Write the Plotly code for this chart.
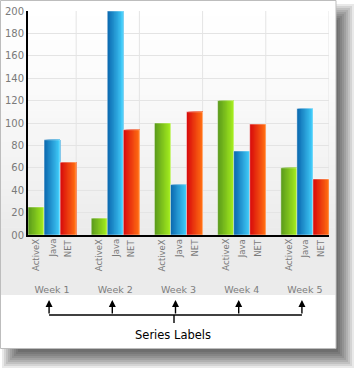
import plotly.graph_objects as go

# ---------------- data ----------------
weeks = ["Week 1", "Week 2", "Week 3", "Week 4", "Week 5"]
series_names = ["ActiveX", "Java", "NET"]
activex = [25, 15, 100, 120, 60]
java = [85, 200, 45, 75, 113]
net = [65, 94, 110, 99, 50]
y_tick_vals = [0, 20, 40, 60, 80, 100, 120, 140, 160, 180, 200]
y_tick_text = ["00", "20", "40", "60", "80", "100", "120", "140", "160", "180", "200"]
note_text = "Series Labels"

# ---------------- geometry / style ----------------
W, H = 357, 370
L, R, T, B = 28, 28, 11, 135
PW, PH = W - L - R, H - T - B
BOTTOM = T + PH


def pxx(x):
    return (x - L) / PW


def pxy(y):
    return (BOTTOM - y) / PH


GW = 0.762          # group width in category units
BW = GW / 3         # bar width
N = 12              # gradient stripes per bar

colors = [((0x5c, 0x9c, 0x1c), (0xa2, 0xea, 0x1e)),
          ((0x0c, 0x6a, 0xb0), (0x40, 0xca, 0xf8)),
          ((0xd8, 0x0c, 0x0c), (0xff, 0x6c, 0x12))]
FONT = "DejaVu Sans"
GRAY = "#7a7a7a"


def mix(c0, c1, t):
    return "rgb(%d,%d,%d)" % tuple(round(a + (b - a) * t) for a, b in zip(c0, c1))


fig = go.Figure()
for s, vals in enumerate([activex, java, net]):
    c0, c1 = colors[s]
    base = -GW / 2 + s * BW
    for k in range(N):
        fig.add_trace(go.Bar(
            x=weeks, y=vals, width=BW * (1 - k / N), offset=base + k * BW / N,
            marker=dict(color=mix(c0, c1, k / (N - 1)), line=dict(width=0)),
            name=series_names[s], showlegend=False, hoverinfo="skip"))
    fig.add_trace(go.Bar(
        x=weeks, y=vals, width=BW, offset=base,
        marker=dict(color="rgba(0,0,0,0)", line=dict(color="rgba(255,255,255,0.45)", width=1)),
        name=series_names[s], showlegend=False,
        hovertemplate=series_names[s] + " %{x}: %{y}<extra></extra>"))

shapes = []
# drop shadow
sx0, sy0, sx1, sy1 = 10, 12, 346, 360
for e in range(-8, 9, 2):
    shapes.append(dict(type="rect", xref="paper", yref="paper", layer="below",
                       x0=pxx(sx0 - e), x1=pxx(sx1 + e), y0=pxy(sy1 + e), y1=pxy(sy0 - e),
                       fillcolor="rgba(0,0,0,0.085)", line=dict(width=0)))
# frame fill
shapes.append(dict(type="rect", xref="paper", yref="paper", layer="below",
                   x0=pxx(0), x1=pxx(336), y0=pxy(348), y1=pxy(0),
                   fillcolor="white", line=dict(width=0)))
# background gradient
NS = 30
top, bot = 1, BOTTOM
for i in range(NS):
    ya = top + (bot - top) * i / NS
    yb = top + (bot - top) * (i + 1) / NS + 0.6
    t = ((i + 0.5) / NS) ** 1.4
    g = round(255 + (235 - 255) * t)
    shapes.append(dict(type="rect", xref="paper", yref="paper", layer="below",
                       x0=pxx(1), x1=pxx(335.5), y0=pxy(yb), y1=pxy(ya),
                       fillcolor="rgb(%d,%d,%d)" % (g, g, g), line=dict(width=0)))
# label band
shapes.append(dict(type="rect", xref="paper", yref="paper", layer="below",
                   x0=pxx(1), x1=pxx(335.5), y0=pxy(295), y1=pxy(BOTTOM),
                   fillcolor="#ebebeb", line=dict(width=0)))
# frame border
shapes.append(dict(type="rect", xref="paper", yref="paper", layer="below",
                   x0=pxx(0.5), x1=pxx(336), y0=pxy(348.5), y1=pxy(0.5),
                   fillcolor="rgba(0,0,0,0)", line=dict(color="#bdbdbd", width=1)))
# vertical grid lines at group edges
for i in range(len(weeks)):
    shapes.append(dict(type="line", xref="x", yref="paper", layer="below",
                       x0=i + GW / 2, x1=i + GW / 2, y0=0, y1=1,
                       line=dict(color="#e4e4e4", width=1)))
# connector lines for the callout
shift = -3 / (PW / (len(weeks) - 1 + GW))
shapes.append(dict(type="line", xref="x", yref="paper",
                   x0=0 + shift, x1=len(weeks) - 1 + shift, y0=pxy(315), y1=pxy(315),
                   line=dict(color="black", width=1.4)))
shapes.append(dict(type="line", xref="paper", yref="paper",
                   x0=pxx(174), x1=pxx(174), y0=pxy(315), y1=pxy(323),
                   line=dict(color="black", width=1.4)))

annotations = []
for w in weeks:
    for s, name in enumerate(series_names):
        annotations.append(dict(xref="x", yref="y", x=w, y=0, text=name, showarrow=False,
                                textangle=-90, xanchor="center", yanchor="top",
                                xshift=(s - 1) * BW * PW / (len(weeks) - 1 + GW), yshift=-2,
                                font=dict(family=FONT, size=8.5, color=GRAY)))
    annotations.append(dict(xref="x", yref="paper", x=w, y=pxy(300), text="", showarrow=True,
                            ax=0, ay=15, arrowhead=2, arrowsize=1, arrowwidth=1.4,
                            arrowcolor="black", xshift=-3, standoff=0))
annotations.append(dict(xref="paper", yref="paper", x=pxx(173), y=pxy(335), text=note_text,
                        showarrow=False, xanchor="center", yanchor="middle",
                        font=dict(family=FONT, size=11.5, color="black")))

fig.update_layout(
    width=W, height=H, margin=dict(l=L, r=R, t=T, b=B, pad=0, autoexpand=False),
    paper_bgcolor="white", plot_bgcolor="rgba(0,0,0,0)",
    barmode="overlay", showlegend=False,
    shapes=shapes, annotations=annotations,
    font=dict(family=FONT, color=GRAY),
    xaxis=dict(type="category", categoryorder="array", categoryarray=weeks,
               range=[-GW / 2, len(weeks) - 1 + GW / 2], showgrid=False, zeroline=False,
               showline=True, linecolor="black", linewidth=1.5, ticks="",
               tickfont=dict(family=FONT, size=9.5, color="#7d7d7d"), ticklabelstandoff=45,
               automargin=False, fixedrange=True),
    yaxis=dict(range=[0, 200], tickvals=y_tick_vals, ticktext=y_tick_text,
               showgrid=True, gridcolor="#e4e4e4", gridwidth=1, zeroline=False,
               showline=True, linecolor="black", linewidth=2, ticks="",
               tickfont=dict(family=FONT, size=10, color=GRAY),
               automargin=False, fixedrange=True),
)

fig.write_html("out.html", config={"displayModeBar": False},
               post_script="document.body.style.margin='0';document.body.style.padding='0';")
